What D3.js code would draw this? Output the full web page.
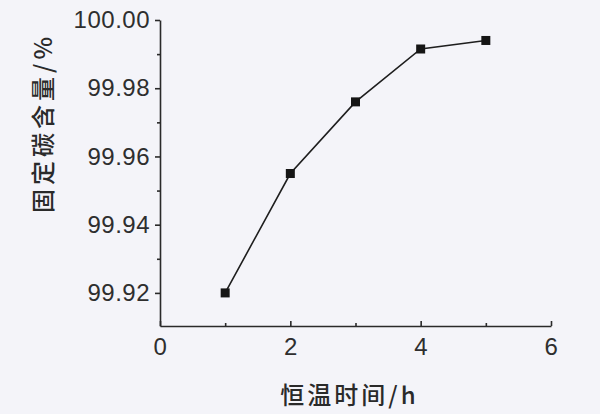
<!DOCTYPE html>
<html>
<head>
<meta charset="utf-8">
<script src="https://cdn.jsdelivr.net/npm/d3@7"></script>
<style>
  body { margin: 0; background: #f4f4f9; }
  svg { display: block; }
  .tick text { font-family: "Liberation Sans", Arial, sans-serif; font-size: 24px; fill: #2e2e2e; letter-spacing: 0.5px; }
  .axisTitle { font-family: "Noto Sans CJK SC", sans-serif; font-size: 24px; fill: #2a2a2a; font-weight: 500; }
</style>
</head>
<body>
<div id="chart"></div>
<script>
var svgWidth = 600;
var svgHeight = 414;

// data
var hours = [1, 2, 3, 4, 5];
var carbon = [99.920, 99.955, 99.976, 99.9915, 99.994];
var xTicks = [0, 2, 4, 6];
var yTicks = [99.92, 99.94, 99.96, 99.98, 100.00];

var margin = { top: 20, right: 49, bottom: 88, left: 160 };
var width = svgWidth - margin.left - margin.right;
var height = svgHeight - margin.top - margin.bottom;

var svg = d3.select("#chart")
    .append("svg")
    .attr("width", svgWidth)
    .attr("height", svgHeight);

svg.append("rect")
    .attr("width", svgWidth)
    .attr("height", svgHeight)
    .attr("fill", "#f4f4f9");

var chartGroup = svg.append("g")
    .attr("transform", `translate(${margin.left}, ${margin.top})`);

var xScale = d3.scaleLinear().domain([0, 6]).range([0, width]);
var yScale = d3.scaleLinear().domain([99.9103, 100.00]).range([height, 0]);

// x axis, ticks pointing up into the plot
var xAxis = chartGroup.append("g")
    .attr("transform", `translate(0, ${height})`)
    .call(d3.axisBottom(xScale).tickValues(xTicks).tickSizeInner(-5).tickSizeOuter(0).tickPadding(12).tickFormat(d3.format("d")));
chartGroup.append("g")
    .attr("transform", `translate(0, ${height})`)
    .call(d3.axisBottom(xScale).tickValues([1, 3, 5]).tickSizeInner(-3).tickSizeOuter(0).tickFormat(""))
    .select(".domain").remove();

// y axis
var yAxis = chartGroup.append("g")
    .call(d3.axisLeft(yScale).tickValues(yTicks).tickSizeInner(5).tickSizeOuter(0).tickPadding(5).tickFormat(d3.format(".2f")));
chartGroup.append("g")
    .call(d3.axisLeft(yScale).tickValues([99.93, 99.95, 99.97, 99.99]).tickSizeInner(3).tickSizeOuter(0).tickFormat(""))
    .select(".domain").remove();

chartGroup.selectAll(".domain, .tick line")
    .attr("stroke", "#2a2a2a")
    .attr("stroke-width", 1.6);

// line and markers
var line = d3.line()
    .x((d, i) => xScale(hours[i]))
    .y(d => yScale(d));

chartGroup.append("path")
    .datum(carbon)
    .attr("d", line)
    .attr("fill", "none")
    .attr("stroke", "#1e1e1e")
    .attr("stroke-width", 1.6);

chartGroup.selectAll(".pt")
    .data(carbon)
    .enter()
    .append("rect")
    .attr("class", "pt")
    .attr("x", (d, i) => xScale(hours[i]) - 4.5)
    .attr("y", d => yScale(d) - 4.5)
    .attr("width", 9)
    .attr("height", 9)
    .attr("fill", "#151515");

// axis titles
chartGroup.append("text")
    .attr("class", "axisTitle")
    .attr("x", width / 2 - 6)
    .attr("y", height + 78)
    .attr("text-anchor", "middle")
    .attr("letter-spacing", "3px")
    .text("恒温时间/h");

chartGroup.append("text")
    .attr("class", "axisTitle")
    .attr("transform", "rotate(-90)")
    .attr("x", -(213 - margin.top + 33 - margin.top) / 2)
    .attr("y", 43 - margin.left + 9)
    .attr("text-anchor", "middle")
    .attr("letter-spacing", "4px")
    .text("固定碳含量/%");
</script>
</body>
</html>
